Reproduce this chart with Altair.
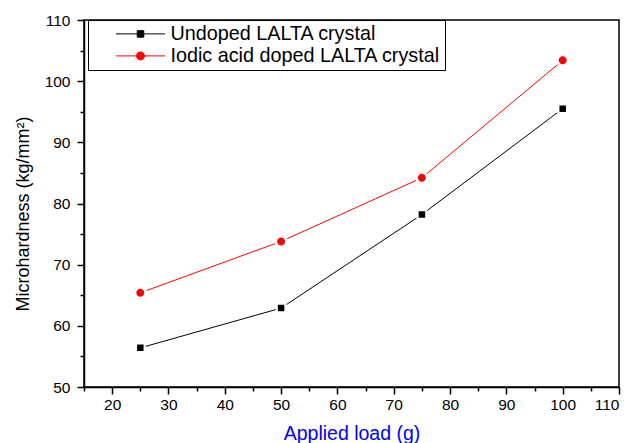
import altair as alt
import pandas as pd

loads = [25, 50, 75, 100]
undoped = [56.4, 62.9, 78.2, 95.5]
doped = [65.4, 73.8, 84.2, 103.4]
series_names = ["Undoped LALTA crystal", "Iodic acid doped LALTA crystal"]
series_colors = ["#000000", "#FF0000"]
x_ticks = [15, 20, 25, 30, 35, 40, 45, 50, 55, 60, 65, 70, 75, 80, 85, 90, 95, 100, 105, 110]
y_ticks = [50, 55, 60, 65, 70, 75, 80, 85, 90, 95, 100, 105, 110]

rows = []
for name, vals in zip(series_names, [undoped, doped]):
    for l, v in zip(loads, vals):
        rows.append({"load": l, "hardness": v, "series": name})
df = pd.DataFrame(rows)

FONT = "Liberation Sans"
xscale = alt.Scale(domain=[15, 110], nice=False, zero=False)
yscale = alt.Scale(domain=[50, 110], nice=False, zero=False)
cscale = alt.Scale(domain=series_names, range=series_colors)

sq_path = "M-4.9,0H4.9M-0.65,-0.65H0.65V0.65H-0.65Z"
ci_path = "M-4.9,0H4.9M0.8,0A0.8,0.8,0,1,1,-0.8,0A0.8,0.8,0,1,1,0.8,0Z"
sscale = alt.Scale(domain=series_names, range=[sq_path, ci_path])
is_first = f"datum.series === '{series_names[0]}'"

legend = alt.Legend(
    title=None, orient="none", legendX=4, legendY=0,
    strokeColor="black", fillColor="white", padding=4,
    labelFont=FONT, labelFontSize=19.8, labelColor="black", labelLimit=1000,
    symbolSize=100, symbolOffset=38.6, labelOffset=20, rowPadding=1,
    symbolStrokeWidth=1, symbolOpacity=1,
)

major = "datum.value % 10 === 0"
x_axis = alt.Axis(values=x_ticks, title="Applied load (g)", orient="bottom",
                  grid=False, ticks=True,
                  tickSize={"condition": {"test": major, "value": 7}, "value": 4},
                  tickWidth=1.5, tickColor="black", tickOpacity=1,
                  domainColor="black", domainWidth=1.5,
                  labelExpr=f"{major} ? datum.label : ''",
                  labelFont=FONT, labelFontSize=15.5, labelColor="black", labelPadding=3,
                  titleFont=FONT, titleFontSize=19.5, titleColor="#0000FF",
                  titleFontWeight="normal", titleY=52, titleBaseline="alphabetic")
y_axis = alt.Axis(values=y_ticks, title="Microhardness (kg/mm²)", orient="left",
                  grid=False, ticks=True,
                  tickSize={"condition": {"test": major, "value": 7}, "value": 4},
                  tickWidth=1.5, tickColor="black", tickOpacity=1,
                  domainColor="black", domainWidth=1.5,
                  labelExpr=f"{major} ? datum.label : ''",
                  labelFont=FONT, labelFontSize=15.5, labelColor="black", labelPadding=7,
                  titleFont=FONT, titleFontSize=18, titleColor="black",
                  titleFontWeight="normal", titleX=-61, titleY=193.5,
                  titleAngle=270, titleBaseline="middle", titleAlign="center")

base = alt.Chart(df)
X = alt.X("load:Q", scale=xscale, axis=x_axis)
Y = alt.Y("hardness:Q", scale=yscale, axis=y_axis)
col_cond = alt.condition(is_first, alt.value(series_colors[0]), alt.value(series_colors[1]))
shp_cond = alt.condition(is_first, alt.value(sq_path), alt.value(ci_path))

lines = base.mark_line(strokeWidth=1).encode(
    x=X, y=Y, detail="series:N", color=col_cond,
)

halo = base.mark_point(filled=True, color="white", opacity=1, size=280).encode(
    x=X, y=Y, detail="series:N", shape=shp_cond,
)

points = base.mark_point(filled=True, opacity=1, size=100).encode(
    x=X, y=Y, detail="series:N", color=col_cond, shape=shp_cond,
)

legend_layer = base.transform_filter("false").mark_point(
    filled=True, opacity=1, strokeWidth=1, size=100
).encode(
    x=X, y=Y,
    color=alt.Color("series:N", scale=cscale, legend=legend),
    stroke=alt.Stroke("series:N", scale=cscale, legend=legend),
    shape=alt.Shape("series:N", scale=sscale, legend=legend),
)

chart = alt.layer(lines, halo, points, legend_layer).properties(
    width=535, height=367,
    autosize=alt.AutoSizeParams(type="none"),
    padding={"left": 84, "top": 20, "right": 14, "bottom": 56},
    background="white",
).configure_view(stroke="black", strokeWidth=1.5)

chart.save("out.html", embed_options={"renderer": "svg", "actions": False})
